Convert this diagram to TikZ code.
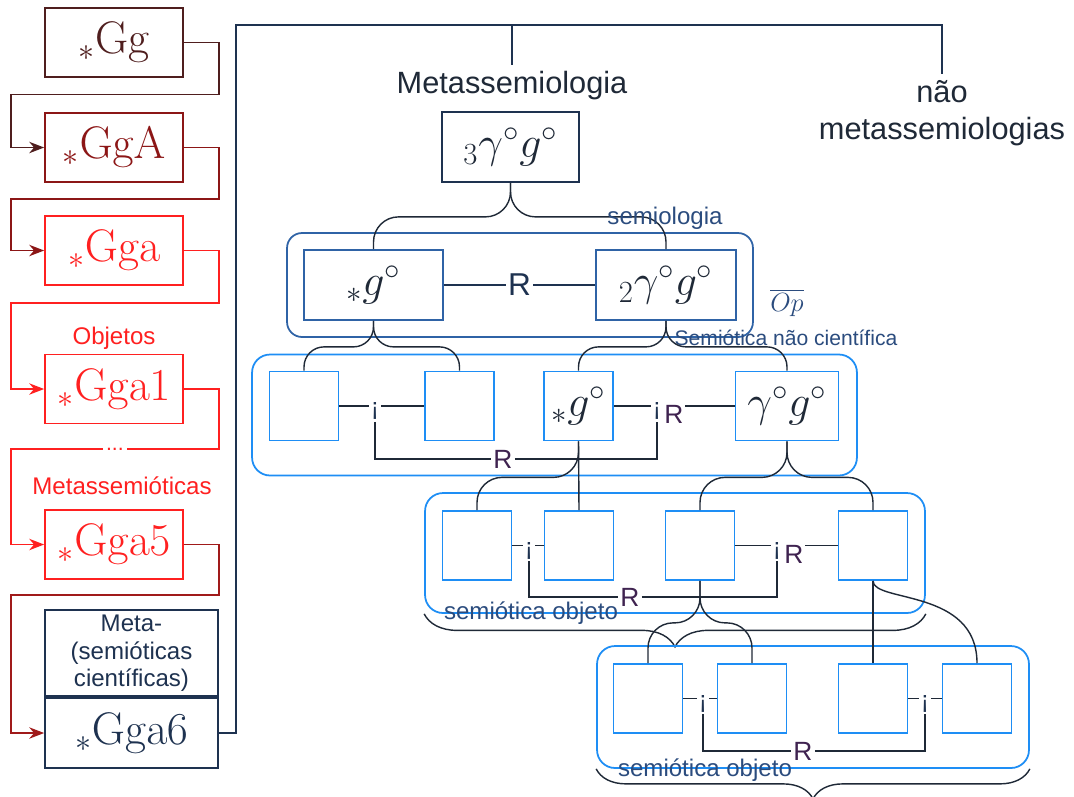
\RequirePackage{fix-cm}
\documentclass[tikz,border=0pt]{standalone}
\usepackage[no-math]{fontspec}
\setmainfont{Liberation Sans}
\usetikzlibrary{arrows.meta,positioning,decorations.pathreplacing}
\definecolor{brn}{HTML}{4F1E1E}
\definecolor{dred}{HTML}{8C1616}
\definecolor{mred}{HTML}{A01A1A}
\definecolor{rred}{HTML}{FF2020}
\definecolor{navy}{HTML}{1E3250}
\definecolor{lnk}{HTML}{1F2937}
\definecolor{mblue}{HTML}{2F63A6}
\definecolor{lblue}{HTML}{1E8EF5}
\definecolor{purp}{HTML}{3F2350}
\definecolor{tblue}{HTML}{2B4C7E}

\begin{document}
\begin{tikzpicture}[x=0.02cm,y=-0.02cm,>={Stealth[length=8.5pt,width=6.5pt]},line width=0.8pt,
  gbox/.style={draw,line width=1pt,minimum width=2.76cm,minimum height=1.38cm,inner sep=0pt,font=\fontsize{26}{28}\selectfont},
  sbox/.style={draw=mblue,line width=1pt,text=lnk,minimum width=2.78cm,minimum height=1.4cm,inner sep=0pt,font=\fontsize{25}{27}\selectfont},
  qbox/.style={draw=lblue,line width=1pt,text=lnk,minimum size=1.38cm,inner sep=0pt,font=\fontsize{25}{27}\selectfont},
  zone/.style={draw=lblue,line width=1pt,rounded corners=0.36cm,inner sep=0pt},
  link/.style={draw=lnk,rounded corners=0.4cm},
  rel/.style={draw=lnk},
  underbrace/.style={draw=lnk,decorate,decoration={brace,mirror,amplitude=#1}},
  excl/.style={text=navy,fill=white,inner sep=1pt,font=\fontsize{14}{14}\selectfont},
  rlab/.style={text=purp,fill=white,inner sep=1pt,font=\fontsize{15}{15}\selectfont},
  lab/.style={font=\fontsize{13.7}{15.5}\selectfont},
  head/.style={text=lnk,font=\fontsize{17.5}{21}\selectfont}]
\useasboundingbox (0,0) rectangle (1074,796);
\fill[white] (0,0) rectangle (1074,796);

% left column
\node[gbox,draw=brn,text=brn] (gg) at (114,42.5) {${}_{*}\mathrm{Gg}$};
\node[gbox,draw=dred,text=dred] (ggA) at (114,147.5) {${}_{*}\mathrm{GgA}$};
\node[gbox,draw=rred,text=rred] (gga) at (114,250.5) {${}_{*}\mathrm{Gga}$};
\node[lab,text=rred] (obj) at (114,338) {Objetos};
\node[gbox,draw=rred,text=rred] (gga1) at (114,389) {${}_{*}\mathrm{Gga1}$};
\node[lab,text=rred] (msem) at (122,486) {Metassemióticas};
\node[gbox,draw=rred,text=rred] (gga5) at (114,544.5) {${}_{*}\mathrm{Gga5}$};
\node[gbox,draw=navy,text=navy,minimum width=3.46cm,minimum height=1.4cm] (gga6) at (131.5,733) {${}_{*}\mathrm{Gga6}$};
\node[draw=navy,line width=1pt,text=navy,lab,align=center,minimum width=3.46cm,minimum height=1.72cm,inner sep=0pt,above=0pt of gga6] (meta6) {Meta-\\(semióticas\\científicas)};
\draw[->,brn] (gg.east) -- ++(35,0) -- ++(0,52) -- ++(-208,0) |- (ggA.west);
\draw[->,dred] (ggA.east) -- ++(35,0) -- ++(0,51.5) -- ++(-208,0) |- (gga.west);
\draw[->,rred] (gga.east) -- ++(35,0) -- ++(0,52.5) -- ++(-208,0) |- (gga1.west);
\draw[->,rred] (gga1.east) -- ++(35,0) -- ++(0,60) -- node[fill=white,inner sep=2pt,text=rred,font=\fontsize{12}{12}\selectfont] {...} ++(-208,0) |- (gga5.west);
\draw[->,mred] (gga5.east) -- ++(35,0) -- ++(0,50.5) -- ++(-208,0) |- (gga6.west);

% top
\node[head] (meta) at (512,86) {Metassemiologia};
\node[head,align=center] (nao) at (942,113) {não\\metassemiologias};
\coordinate (top) at (512,25);
\draw[navy] (gga6.east) -- ++(17,0) |- (top) -| (nao.north);
\draw[navy] (top) -- (meta.north);

% semiologia
\node[zone,draw=mblue,rounded corners=0.3cm,minimum width=9.32cm,minimum height=2.08cm] (semf) at (520,285) {};
\node[sbox,draw=navy,minimum width=2.74cm] (gm) at (510.5,147) {${}_{3}\gamma^{\circ}g^{\circ}$};
\node[sbox] (s1) at (373.5,285) {${}_{*}g^{\circ}$};
\node[sbox,minimum width=2.8cm] (s2) at (666,285) {${}_{2}\gamma^{\circ}g^{\circ}$};
\draw[rel,navy] (s1) -- node[fill=white,text=navy,inner sep=1pt,font=\fontsize{18}{18}\selectfont] {R} (s2);
\draw[link,rounded corners=0.5cm] (gm.south) -- ++(0,34) -| (s1.north);
\draw[link,rounded corners=0.5cm] (gm.south) -- ++(0,34) -| (s2.north);
\node[lab,text=tblue] (semlab) at (665,218) {semiologia};
\node[text=tblue,font=\fontsize{15}{16}\selectfont] (op) at (787,303) {$\overline{Op}$};
\node[text=tblue,font=\fontsize{12}{14}\selectfont] (snc) at (786,338) {Semiótica não científica};

% row 2
\node[zone,minimum width=12.1cm,minimum height=2.42cm] (r2f) at (554.5,415) {};
\node[qbox] (a2) at (304,406) {};
\node[qbox] (b2) at (459.5,406) {};
\node[qbox] (c2) at (578.5,406) {${}_{*}g^{\circ}$};
\node[qbox,minimum width=2.06cm] (d2) at (787,406) {$\gamma^{\circ}g^{\circ}$};
\draw[rel] (a2) -- (b2);
\draw[rel] (c2) -- (d2);
\node[excl] (t1) at (375,411) {¡};
\node[excl] (t2) at (657,411) {¡};
\node[rlab,right=-1pt of t2,yshift=-2pt] (tr2) {R};
\node[rlab] (rl2) at (503,459) {R};
\draw[rel] (t1.south) |- (rl2) -| (t2.south);
\draw[link] (s1.south) -- ++(0,26) -| (a2.north);
\draw[link] (s1.south) -- ++(0,26) -| (b2.north);
\draw[link] (s2.south) -- ++(0,26) -| (c2.north);
\draw[link] (s2.south) -- ++(0,26) -| (d2.north);

% row 3
\node[zone,minimum width=10cm,minimum height=2.4cm] (r3f) at (675,553) {};
\node[qbox] (e3) at (477,545.5) {};
\node[qbox] (f3) at (579,545.5) {};
\node[qbox] (g3) at (700,545.5) {};
\node[qbox] (h3) at (873,545.5) {};
\draw[rel] (e3) -- (f3);
\draw[rel] (g3) -- (h3);
\node[excl] (t3) at (529,550.5) {¡};
\node[excl] (t4) at (777,550.5) {¡};
\node[rlab,right=-1pt of t4,yshift=-2pt] (tr4) {R};
\node[rlab] (rl3) at (630,597) {R};
\draw[rel] (t3.south) |- (rl3) -| (t4.south);
\draw[link,rounded corners=0.5cm] (c2.south) -- ++(0,36) -| (e3.north);
\draw[rel] (c2.south) -- (f3.north);
\draw[link,rounded corners=0.5cm] (d2.south) -- ++(0,36) -| (g3.north);
\draw[link,rounded corners=0.5cm] (d2.south) -- ++(0,36) -| (h3.north);
\node[lab,text=tblue] (so3) at (531,613) {semiótica objeto};
\draw[underbrace=0.66cm] (r3f.south west) -- (r3f.south east);

% row 4
\node[zone,minimum width=8.64cm,minimum height=2.44cm] (r4f) at (813,707) {};
\node[qbox] (i4) at (648,698.5) {};
\node[qbox] (j4) at (752,698.5) {};
\node[qbox] (k4) at (873,698.5) {};
\node[qbox] (m4) at (977,698.5) {};
\draw[rel] (i4) -- (j4);
\draw[rel] (k4) -- (m4);
\node[excl] (t5) at (703,703.5) {¡};
\node[excl] (t6) at (925,703.5) {¡};
\node[rlab] (rl4) at (803,751) {R};
\draw[rel] (t5.south) |- (rl4) -| (t6.south);
\draw[link,rounded corners=0.5cm] (g3.south) -- ++(0,42) -| (i4.north);
\draw[link,rounded corners=0.5cm] (g3.south) -- ++(0,42) -| (j4.north);
\draw[rel] (h3.south) -- (k4.north);
\draw[rel] (h3.south) .. controls +(0,22) and +(0,-75) .. (m4.north);
\node[lab,text=tblue] (so4) at (705,770) {semiótica objeto};
\draw[underbrace=0.6cm] (r4f.south west) -- (r4f.south east);
\end{tikzpicture}
\end{document}
